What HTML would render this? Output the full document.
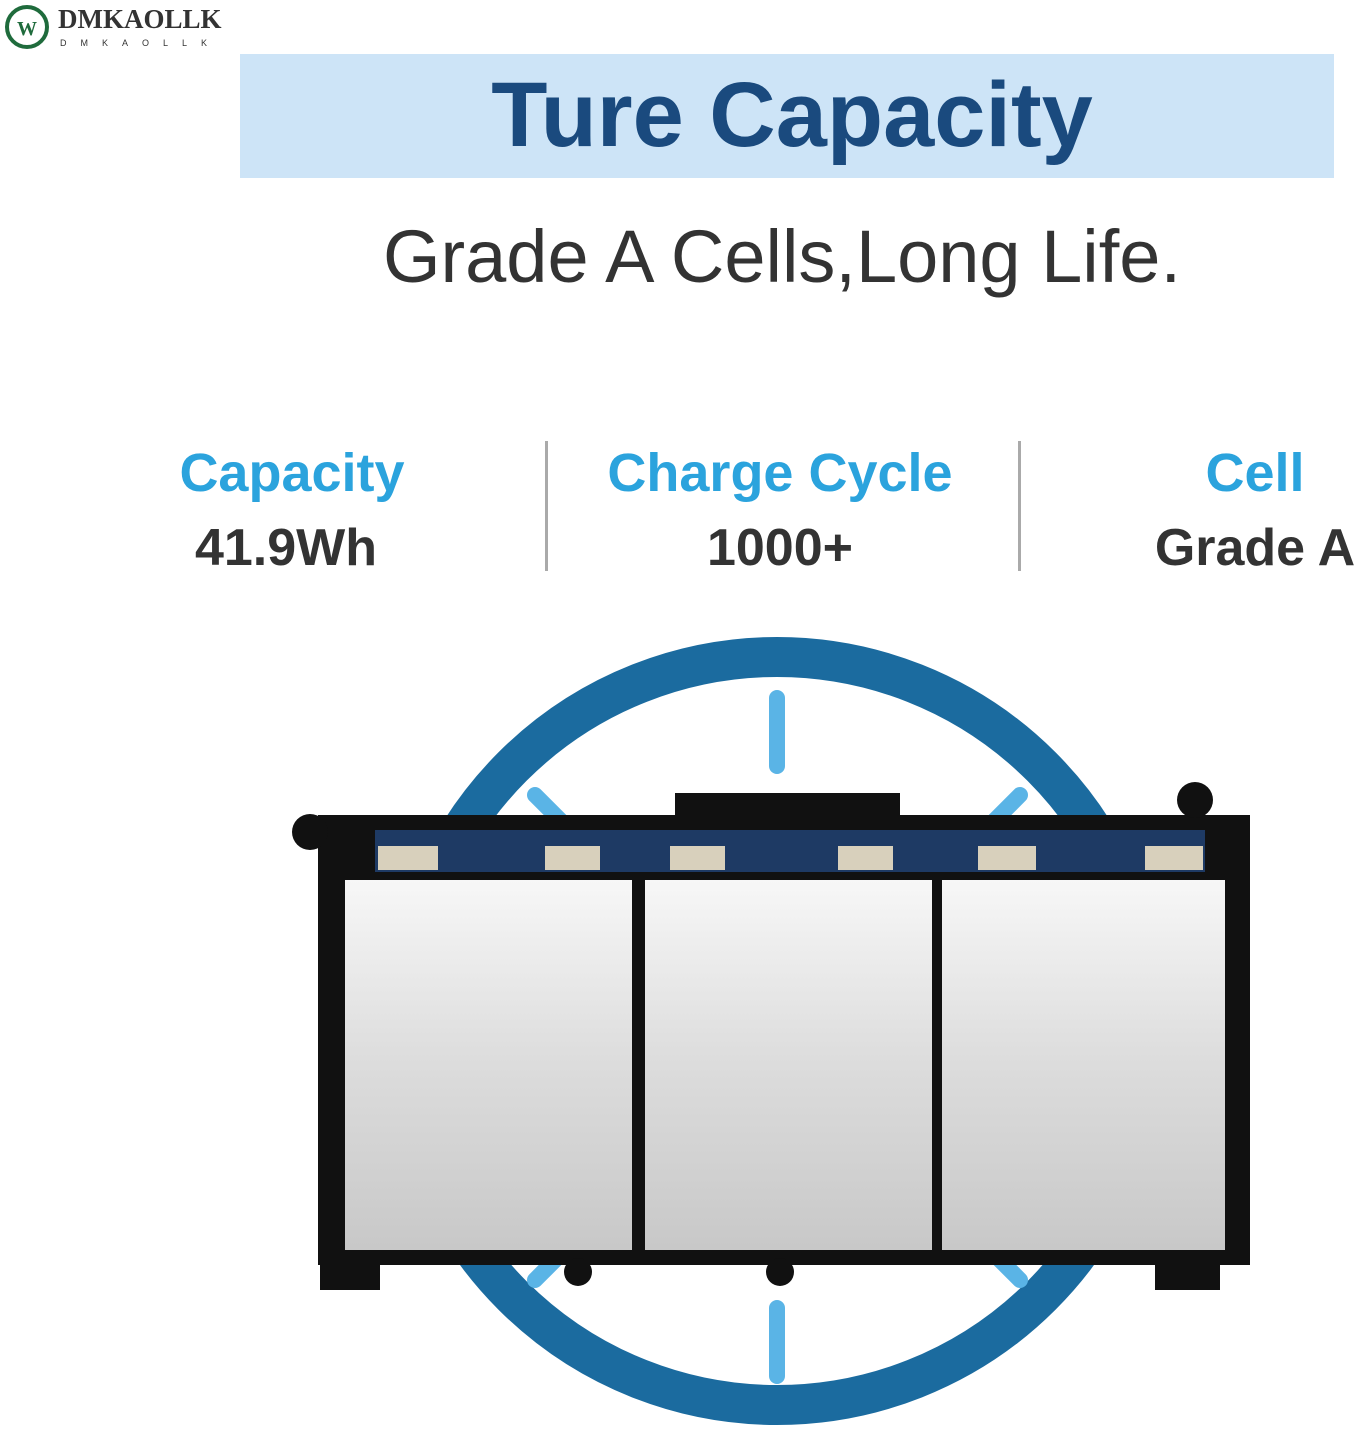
<!DOCTYPE html>
<html><head><style>
body{margin:0;width:1363px;height:1448px;background:#fff;position:relative;overflow:hidden;font-family:"Liberation Sans",sans-serif}
.a{position:absolute}
.lab{color:#2ba3dd;font-weight:bold;font-size:54px;text-align:center;white-space:nowrap}
.val{color:#333;font-weight:bold;font-size:52px;text-align:center;white-space:nowrap}
</style></head><body>
<svg class="a" style="left:4px;top:4px" width="48" height="48"><circle cx="23" cy="23" r="20" fill="none" stroke="#1f6b3c" stroke-width="4"/><text x="23" y="31" font-size="20" font-weight="bold" fill="#1f6b3c" text-anchor="middle" font-family="Liberation Serif">W</text></svg>
<div class="a" style="left:58px;top:4px;font-family:'Liberation Serif',serif;font-weight:bold;font-size:27px;color:#333">DMKAOLLK</div>
<div class="a" style="left:60px;top:38px;font-size:9px;letter-spacing:14px;color:#333">DMKAOLLK</div>
<div class="a" style="left:240px;top:54px;width:1094px;height:124px;background:#cde4f7"></div>
<div class="a" style="left:240px;top:60px;width:1104px;text-align:center;font-size:92px;font-weight:bold;color:#1a4a7e;line-height:110px">Ture Capacity</div>
<div class="a" style="left:240px;top:212px;width:1084px;text-align:center;font-size:74px;color:#333;line-height:90px">Grade A Cells,Long Life.</div>
<div class="a lab" style="left:92px;width:400px;top:442px">Capacity</div>
<div class="a val" style="left:86px;width:400px;top:518px">41.9Wh</div>
<div class="a lab" style="left:580px;width:400px;top:442px">Charge Cycle</div>
<div class="a val" style="left:580px;width:400px;top:518px">1000+</div>
<div class="a lab" style="left:1055px;width:400px;top:442px">Cell</div>
<div class="a val" style="left:1055px;width:400px;top:518px">Grade A</div>
<div class="a" style="left:545px;top:441px;width:3px;height:130px;background:#aaa"></div>
<div class="a" style="left:1018px;top:441px;width:3px;height:130px;background:#aaa"></div>
<svg class="a" style="left:0;top:600px" width="1363" height="848">
<defs><linearGradient id="g" x1="0" y1="0" x2="0" y2="1"><stop offset="0" stop-color="#f7f7f7"/><stop offset="0.5" stop-color="#dcdcdc"/><stop offset="1" stop-color="#c8c8c8"/></linearGradient></defs>
<circle cx="777" cy="1031" r="374" transform="translate(0,-600)" fill="none" stroke="#1b6b9f" stroke-width="40"/>
<g stroke="#5ab4e6" stroke-width="16" stroke-linecap="round">
<line x1="777" y1="98" x2="777" y2="166"/><line x1="777" y1="708" x2="777" y2="776"/>
<line x1="535" y1="195" x2="575" y2="235"/><line x1="1020" y1="195" x2="980" y2="235"/>
<line x1="535" y1="680" x2="560" y2="655"/><line x1="1020" y1="680" x2="995" y2="655"/>
</g>
<rect x="318" y="215" width="932" height="450" fill="#111"/>
<circle cx="310" cy="232" r="18" fill="#111"/><circle cx="1195" cy="200" r="18" fill="#111"/>
<rect x="675" y="193" width="225" height="25" fill="#111"/>
<rect x="320" y="645" width="60" height="45" fill="#111"/><rect x="1155" y="645" width="65" height="45" fill="#111"/>
<circle cx="578" cy="672" r="14" fill="#111"/><circle cx="780" cy="672" r="14" fill="#111"/>
<rect x="375" y="230" width="830" height="42" fill="#1e3a64"/>
<g fill="#d8d0bc"><rect x="378" y="246" width="60" height="24"/><rect x="545" y="246" width="55" height="24"/><rect x="670" y="246" width="55" height="24"/><rect x="838" y="246" width="55" height="24"/><rect x="978" y="246" width="58" height="24"/><rect x="1145" y="246" width="58" height="24"/></g>
<rect x="345" y="280" width="287" height="370" fill="url(#g)"/>
<rect x="645" y="280" width="287" height="370" fill="url(#g)"/>
<rect x="942" y="280" width="283" height="370" fill="url(#g)"/>
</svg>
</body></html>
